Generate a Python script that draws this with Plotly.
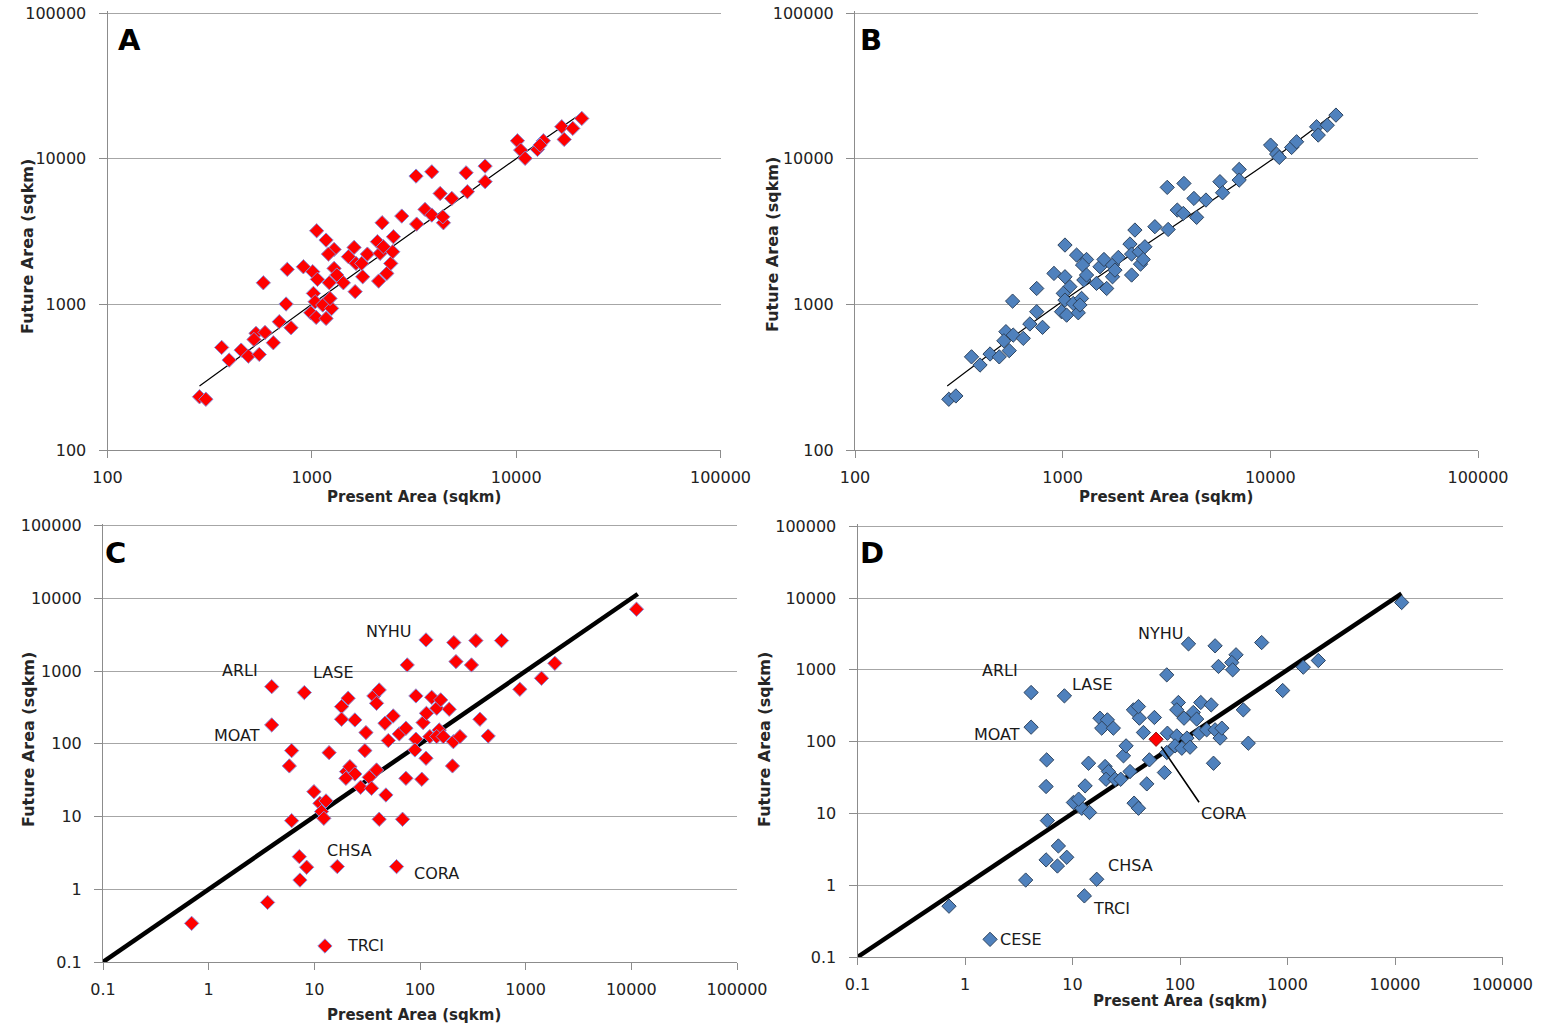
import math
import plotly.graph_objects as go

# ---------------- data ----------------
# Panel A (red) : present vs future area (sqkm)
A_present = [282, 303, 362, 394, 451, 489, 533, 521, 553, 590, 579, 648, 693, 748, 791, 758, 909, 1010, 1056, 1174,
             1285, 1206, 1065, 1018, 1038, 988, 1050, 1174, 1131, 1250, 1227, 1218, 1285, 1325, 1427, 1510, 1610, 1645,
             1774, 1754, 1629, 1870, 2094, 2208, 2158, 2240, 2123, 2328, 2434, 2508, 2489, 2755, 3236, 3258, 3581, 3864,
             3864, 4246, 4406, 4375, 4842, 5689, 5770, 7047, 7047, 10140, 10520, 11060, 12710, 13590, 16710, 17180,
             18930, 20950, 13090]
A_future = [232, 223, 506, 414, 485, 441, 632, 574, 453, 641, 1406, 545, 760, 1005, 691, 1738, 1811, 1675, 3200, 2760,
            2382, 2213, 1484, 1189, 1042, 875, 813, 800, 989, 938, 1098, 1406, 1765, 1589, 1406, 2123, 2460, 1910, 1546,
            1910, 1222, 2213, 2692, 3631, 2238, 2485, 1445, 1630, 1910, 2911, 2296, 4036, 7590, 3556, 4486, 8128, 4100,
            5768, 3631, 3990, 5333, 8000, 5929, 8892, 6950, 13270, 11450, 10050, 11570, 13270, 16560, 13550, 16140,
            18880, 12390]
A_trend_x = [282, 1000, 10000, 20950]
A_trend_y = [275, 1000, 10000, 20470]

# Panel B (blue)
B_present = [283, 306, 364, 400, 447, 495, 533, 521, 553, 578, 574, 646, 695, 750, 800, 750, 908, 1026, 1026, 1167,
             1303, 1247, 1084, 1007, 1026, 988, 1045, 1189, 1125, 1233, 1211, 1265, 1303, 1455, 1513, 1581, 1629, 1738,
             1738, 1854, 1786, 2109, 2148, 2228, 2371, 2148, 2339, 2489, 2443, 2780, 3221, 3188, 3565, 3837, 3811,
             4287, 4416, 4898, 5719, 5890, 7079, 7079, 10030, 10720, 11040, 12660, 13380, 16700, 17010, 18800, 20700]
B_future = [223, 235, 436, 383, 456, 436, 649, 562, 481, 615, 1052, 584, 733, 890, 695, 1285, 1630, 1546, 2553, 2178,
            2032, 1862, 1321, 1189, 1069, 890, 843, 875, 1014, 1098, 989, 1469, 1589, 1393, 1811, 2032, 1285, 1546,
            1862, 2099, 1718, 2594, 2213, 3236, 1888, 1589, 2296, 2485, 2032, 3412, 3266, 6353, 4436, 6761, 4207,
            5333, 3954, 5200, 6950, 5834, 8433, 7129, 12390, 10750, 10200, 11940, 13060, 16560, 14520, 16970, 19910]
B_trend_x = [278, 953, 10330, 20500]
B_trend_y = [275, 1000, 10000, 20650]

# Panel C (red)
C_present = [0.69, 3.61, 3.95, 3.95, 8.04, 6.10, 5.80, 6.10, 7.21, 8.46, 7.31, 9.91, 11.3, 12.9, 11.7, 12.3, 13.8,
             16.5, 12.6, 18.1, 20.9, 18.1, 24.2, 20.2, 21.7, 24.2, 19.9, 30.8, 30.1, 27.4, 33.1, 38.8, 34.8, 36.6,
             41.1, 38.8, 46.6, 47.6, 41.1, 55.8, 50.1, 63.7, 73.6, 73.6, 68.4, 60.0, 75.7, 91.5, 91.5, 89.5, 104, 107,
             115, 129, 114, 114, 124, 144, 157, 152, 144, 189, 207, 203, 209, 219, 239, 166, 338, 591, 307, 1888,
             1413, 881, 369, 442, 11190]
C_future = [0.34, 0.66, 612, 182, 507, 80.7, 49.7, 8.79, 2.81, 2.01, 1.34, 22.0, 15.2, 16.4, 11.7, 9.46, 75.7, 2.05,
            0.166, 325, 424, 218, 213, 41.5, 48.6, 38.5, 33.6, 143, 80.7, 25.3, 34.7, 43.7, 24.5, 456, 551, 361, 192,
            19.8, 9.18, 242, 111, 137, 164, 33.6, 9.18, 2.05, 1217, 456, 116, 82.4, 32.6, 196, 263, 437, 2685, 63.4,
            126, 309, 402, 155, 126, 299, 107, 49.7, 2470, 1352, 126, 126, 2630, 2630, 1216, 1282, 798, 563, 218,
            128, 7100]

# Panel D (blue, CORA highlighted in red)
D_present = [0.71, 1.71, 3.67, 4.12, 4.12, 8.41, 5.75, 5.68, 5.84, 7.39, 5.68, 7.24, 8.84, 16.8, 12.9, 10.2, 12.2,
             14.4, 11.4, 13.1, 14.1, 18.0, 21.1, 18.7, 24.0, 20.1, 21.6, 20.5, 24.9, 28.1, 29.8, 31.5, 34.3, 37.4,
             41.1, 36.9, 41.9, 41.1, 45.7, 49.1, 51.9, 57.8, 76.4, 71.6, 75.3, 75.3, 120, 212, 228, 96.6, 93.3, 109,
             93.3, 90.0, 104, 116, 124, 133, 156, 143, 195, 205, 151, 177, 212, 236, 245, 575, 332, 303, 309, 1403,
             1935, 902, 11530, 388, 432]
D_future = [0.51, 0.176, 1.18, 483, 159, 434, 55.7, 23.7, 7.94, 3.52, 2.25, 1.85, 2.45, 1.21, 0.71, 14.2, 11.8,
            10.3, 15.8, 24.2, 50, 212, 201, 154, 154, 45.0, 38.3, 29.9, 29.9, 29.9, 63.4, 87.3, 38.3, 13.9, 11.8,
            277, 212, 308, 134, 25.8, 55.7, 217, 131, 37.1, 70.5, 851, 2300, 2160, 1115, 351, 277, 212, 120, 87.3,
            80.9, 112, 83.6, 255, 351, 206, 325, 50.0, 131, 146, 146, 112, 154, 2400, 1620, 1265, 1000, 1089, 1349,
            515, 8670, 277, 95]
D_cora_present = [59.9]
D_cora_future = [108]

one_to_one_x = [0.1, 11500]
one_to_one_y = [0.1, 11500]

AB_ticks = [100, 1000, 10000, 100000]
AB_ticktext = ["100", "1000", "10000", "100000"]
CD_ticks = [0.1, 1, 10, 100, 1000, 10000, 100000]
CD_ticktext = ["0.1", "1", "10", "100", "1000", "10000", "100000"]

# labels of named sites (text, present, future position of label)
C_labels = [("NYHU", 50.8, 3460), ("ARLI", 1.98, 1007), ("LASE", 15.3, 944), ("MOAT", 1.85, 132),
            ("CHSA", 21.7, 3.37), ("CORA", 144, 1.67), ("TRCI", 30.8, 0.166)]
D_labels = [("NYHU", 65.2, 3180), ("ARLI", 2.12, 968), ("LASE", 15.5, 618), ("MOAT", 1.99, 124),
            ("CHSA", 35.0, 1.91), ("TRCI", 23.3, 0.48), ("CESE", 3.32, 0.173)]

# ---------------- layout helpers ----------------
W, H = 1547, 1028
FONT = "DejaVu Sans"
RED = "#ff0000"
RED_EDGE = "#8a8ad6"
BLUE = "#4f81bd"
BLUE_EDGE = "#2e445f"
GRID = "#a6a6a6"
AXIS = "#8c8c8c"
HEAD = 2.0  # px of headroom above the top decade so its gridline is drawn


def fx(p):
    return p / W


def fy(p):
    return 1 - p / H


# name, suffix, x px span, y px span (top, bottom), log range
panel_specs = [
    ("A", "", (107.5, 720.5), (13, 450), (2, 5), AB_ticks, AB_ticktext),
    ("B", "2", (855, 1478), (13, 450), (2, 5), AB_ticks, AB_ticktext),
    ("C", "3", (103, 737), (525.7, 962), (-1, 5), CD_ticks, CD_ticktext),
    ("D", "4", (857.5, 1502.5), (526.25, 957), (-1, 5), CD_ticks, CD_ticktext),
]

fig = go.Figure()
layout = dict(
    width=W, height=H,
    margin=dict(l=0, r=0, t=0, b=0, autoexpand=False),
    paper_bgcolor="white", plot_bgcolor="white",
    showlegend=False,
    font=dict(family=FONT, color="#262626"),
)

tickfont = dict(family=FONT, size=16, color="#222222")
for name, sid, (xl, xr), (yt, yb), (lo, hi), tv, tt in panel_specs:
    dec_px = (yb - yt) / (hi - lo)
    layout["xaxis" + sid] = dict(
        type="log", range=[lo, hi], domain=[fx(xl), fx(xr)], anchor="y" + sid, automargin=False,
        showline=True, linecolor=AXIS, linewidth=1,
        ticks="outside", ticklen=7, tickcolor=AXIS, tickwidth=1,
        tickmode="array", tickvals=tv, ticktext=tt, tickfont=tickfont,
        ticklabelstandoff=6, ticklabeloverflow="allow",
        showgrid=False, zeroline=False, fixedrange=True,
    )
    layout["yaxis" + sid] = dict(
        type="log", range=[lo, hi + HEAD / dec_px], domain=[fy(yb), fy(yt - HEAD)], anchor="x" + sid,
        automargin=False,
        showline=True, linecolor=AXIS, linewidth=1,
        ticks="outside", ticklen=8, tickcolor=AXIS, tickwidth=1,
        tickmode="array", tickvals=tv, ticktext=tt, tickfont=tickfont,
        ticklabelstandoff=9, ticklabeloverflow="allow",
        showgrid=True, gridcolor=GRID, gridwidth=1.2, zeroline=False, fixedrange=True,
    )


def scatter(x, y, sid, fill, edge):
    return go.Scatter(x=x, y=y, mode="markers", xaxis="x" + sid, yaxis="y" + sid,
                      marker=dict(symbol="diamond", size=11, color=fill,
                                  line=dict(color=edge, width=1)),
                      hoverinfo="x+y")


def line(x, y, sid, width, shape="linear"):
    return go.Scatter(x=x, y=y, mode="lines", xaxis="x" + sid, yaxis="y" + sid,
                      line=dict(color="black", width=width, shape=shape), hoverinfo="skip")


fig.add_trace(line(A_trend_x, A_trend_y, "", 1.2, "spline"))
fig.add_trace(scatter(A_present, A_future, "", RED, RED_EDGE))
fig.add_trace(line(B_trend_x, B_trend_y, "2", 1.2, "spline"))
fig.add_trace(scatter(B_present, B_future, "2", BLUE, BLUE_EDGE))
fig.add_trace(line(one_to_one_x, one_to_one_y, "3", 4.5))
fig.add_trace(scatter(C_present, C_future, "3", RED, RED_EDGE))
fig.add_trace(line(one_to_one_x, one_to_one_y, "4", 4.5))
fig.add_trace(scatter(D_present, D_future, "4", BLUE, BLUE_EDGE))
fig.add_trace(scatter(D_cora_present, D_cora_future, "4", RED, "#8b1a1a"))

annotations = []
# panel letters
for letter, (lx, ly) in zip("ABCD", [(129, 40), (871, 40), (115, 553), (872, 553)]):
    annotations.append(dict(text="<b>%s</b>" % letter, x=fx(lx), y=fy(ly), xref="paper", yref="paper",
                            showarrow=False, xanchor="center", yanchor="middle",
                            font=dict(family=FONT, size=29, color="black")))

# axis titles
xt_font = dict(family=FONT, size=15, color="#262626")
yt_font = dict(family=FONT, size=16, color="#262626")
for (tx, ty) in [(414, 497), (1166, 497), (414, 1015), (1180, 1001)]:
    annotations.append(dict(text="<b>Present Area (sqkm)</b>", x=fx(tx), y=fy(ty), xref="paper", yref="paper",
                            showarrow=False, xanchor="center", yanchor="middle", font=xt_font))
for (tx, ty) in [(27, 247), (772, 245), (28, 740), (764, 740)]:
    annotations.append(dict(text="<b>Future Area (sqkm)</b>", x=fx(tx), y=fy(ty), xref="paper", yref="paper",
                            showarrow=False, xanchor="center", yanchor="middle", textangle=-90, font=yt_font))

lab_font = dict(family=FONT, size=16, color="#1a1a1a")
for txt, lx, ly in C_labels:
    annotations.append(dict(text=txt, x=math.log10(lx), y=math.log10(ly), xref="x3", yref="y3",
                            showarrow=False, xanchor="center", yanchor="middle", font=lab_font))
for txt, lx, ly in D_labels:
    annotations.append(dict(text=txt, x=math.log10(lx), y=math.log10(ly), xref="x4", yref="y4",
                            showarrow=False, xanchor="center", yanchor="middle", font=lab_font))
# CORA label with leader line in D
annotations.append(dict(text="CORA", x=math.log10(D_cora_present[0]), y=math.log10(D_cora_future[0]),
                        xref="x4", yref="y4", showarrow=True, arrowhead=0, arrowwidth=1.6, arrowcolor="black",
                        ax=43, ay=63, xanchor="left", yanchor="top", standoff=9, font=lab_font))

layout["annotations"] = annotations
fig.update_layout(**layout)
# remove the default 8px page margin so the figure sits at the window's top-left corner
fig.write_html("out.html", config={"displayModeBar": False},
               post_script="document.body.style.margin='0px';")
